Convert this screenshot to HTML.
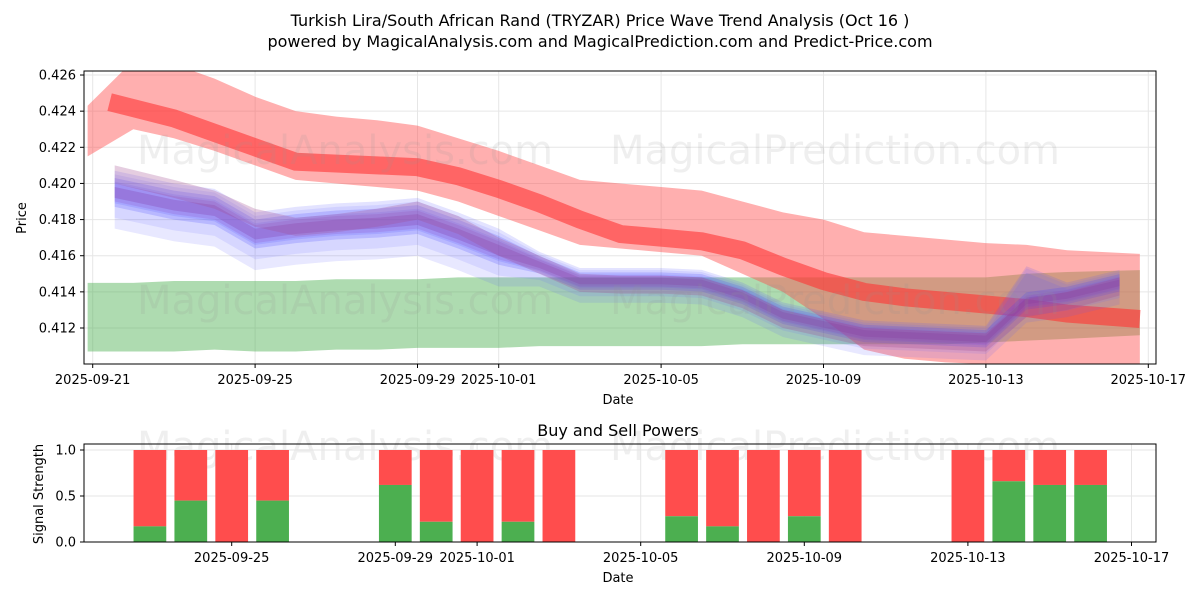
<!DOCTYPE html>
<html><head><meta charset="utf-8"><style>
body{margin:0;background:#fff;font-family:"Liberation Sans","DejaVu Sans",sans-serif}
svg text{font-family:"DejaVu Sans","Liberation Sans",sans-serif;fill:#000}
</style></head><body>
<svg id="c" width="1200" height="600" xmlns="http://www.w3.org/2000/svg">
<rect width="1200" height="600" fill="#fff"/>
<text x="600" y="26" font-size="16" text-anchor="middle">Turkish Lira/South African Rand (TRYZAR) Price Wave Trend Analysis (Oct 16 )</text>
<text x="600" y="47" font-size="16" text-anchor="middle">powered by MagicalAnalysis.com and MagicalPrediction.com and Predict-Price.com</text>
<g id="topg"></g><g id="botg"></g>
</svg>
<script>
const priceDates=['2025-09-20T21:00','2025-09-22','2025-09-23','2025-09-24','2025-09-25','2025-09-26','2025-09-27','2025-09-28','2025-09-29','2025-09-30','2025-10-01','2025-10-02','2025-10-03','2025-10-04','2025-10-05','2025-10-06','2025-10-07','2025-10-08','2025-10-09','2025-10-10','2025-10-11','2025-10-12','2025-10-13','2025-10-14','2025-10-15','2025-10-16T19:00'];
const redTop=[0.4243,0.4268,0.4266,0.4258,0.4248,0.4240,0.4237,0.4235,0.4232,0.4225,0.4218,0.4210,0.4202,0.4200,0.4198,0.4196,0.4190,0.4184,0.4180,0.4173,0.4171,0.4169,0.4167,0.4166,0.4163,0.4161];
const redBottom=[0.4215,0.4230,0.4225,0.4218,0.4210,0.4202,0.4200,0.4198,0.4196,0.4190,0.4182,0.4174,0.4166,0.4164,0.4162,0.4160,0.4150,0.4140,0.4125,0.4108,0.4103,0.4101,0.4100,0.4100,0.4100,0.4098];
const trendDates=['2025-09-21T10:00','2025-09-23','2025-09-24','2025-09-25','2025-09-26','2025-09-27','2025-09-28','2025-09-29','2025-09-30','2025-10-01','2025-10-02','2025-10-03','2025-10-04','2025-10-05','2025-10-06','2025-10-07','2025-10-08','2025-10-09','2025-10-10','2025-10-11','2025-10-12','2025-10-13','2025-10-14','2025-10-15','2025-10-16T19:00'];
const redTrend=[0.4245,0.4236,0.4228,0.4220,0.4212,0.4211,0.4210,0.4209,0.4204,0.4197,0.4189,0.4180,0.4172,0.4170,0.4168,0.4163,0.4154,0.4146,0.4140,0.4137,0.4135,0.4133,0.4131,0.4128,0.4125];
const greenTop=[0.4145,0.4145,0.4146,0.4146,0.4146,0.4146,0.4147,0.4147,0.4147,0.4148,0.4148,0.4148,0.4148,0.4148,0.4148,0.4148,0.4148,0.4148,0.4148,0.4148,0.4148,0.4148,0.4148,0.4150,0.4151,0.4152];
const greenBottom=[0.4107,0.4107,0.4107,0.4108,0.4107,0.4107,0.4108,0.4108,0.4109,0.4109,0.4109,0.4110,0.4110,0.4110,0.4110,0.4110,0.4111,0.4111,0.4111,0.4111,0.4111,0.4111,0.4112,0.4113,0.4114,0.4116];
const waveDates=['2025-09-21T13:00','2025-09-23','2025-09-24','2025-09-25','2025-09-26','2025-09-27','2025-09-28','2025-09-29','2025-09-30','2025-10-01','2025-10-02','2025-10-03','2025-10-04','2025-10-05','2025-10-06','2025-10-07','2025-10-08','2025-10-09','2025-10-10','2025-10-11','2025-10-12','2025-10-13','2025-10-14','2025-10-15','2025-10-16T07:00'];
const wave=[0.4195,0.4188,0.4185,0.4172,0.4175,0.4177,0.4178,0.4180,0.4172,0.4163,0.4155,0.4146,0.4146,0.4146,0.4145,0.4138,0.4127,0.4122,0.4117,0.4116,0.4115,0.4114,0.4135,0.4138,0.4145];
const upperWave=[0.4210,0.4202,0.4196,0.4186,0.4181,0.4183,0.4186,0.4190,0.4182,0.4170,0.4160,0.4150,0.4149,0.4149,0.4148,0.4141,0.4130,0.4125,0.4120,0.4119,0.4118,0.4117,0.4136,0.4140,0.4148];
const yTicks=[0.412,0.414,0.416,0.418,0.420,0.422,0.424,0.426];
const xTicks=['2025-09-21','2025-09-25','2025-09-29','2025-10-01','2025-10-05','2025-10-09','2025-10-13','2025-10-17'];
const xTicksB=['2025-09-25','2025-09-29','2025-10-01','2025-10-05','2025-10-09','2025-10-13','2025-10-17'];
const barDates=['2025-09-23','2025-09-24','2025-09-25','2025-09-26','2025-09-29','2025-09-30','2025-10-01','2025-10-02','2025-10-03','2025-10-06','2025-10-07','2025-10-08','2025-10-09','2025-10-10','2025-10-13','2025-10-14','2025-10-15','2025-10-16'];
const buyPower=[0.17,0.45,0,0.45,0.62,0.22,0,0.22,0,0.28,0.17,0,0.28,0,0,0.66,0.62,0.62];
const NS='http://www.w3.org/2000/svg';
const d0=Date.parse('2025-09-21T00:00');
function day(s){return (Date.parse(s.length===10?s+'T00:00':s)-d0)/86400000;}
const PX=40.6,PXB=40.9;
const X=s=>92.7+day(s)*PX;
const XB=s=>231.7+(day(s)-4)*PXB;
const Y=v=>328-(v-0.412)/0.002*36.14;
const YB=v=>542-v*92;
const L=84,R=1156;
function el(tg,a,p){const e=document.createElementNS(NS,tg);for(const k in a)e.setAttribute(k,a[k]);p.appendChild(e);return e;}
const topG=document.getElementById('topg'),botG=document.getElementById('botg');
const cp=el('clipPath',{id:'cp'},topG);el('rect',{x:L,y:71,width:R-L,height:293},cp);
const plot=el('g',{'clip-path':'url(#cp)'},topG);
yTicks.forEach(v=>el('line',{x1:L,x2:R,y1:Y(v),y2:Y(v),stroke:'#e6e6e6'},plot));
xTicks.forEach(s=>el('line',{x1:X(s),x2:X(s),y1:71,y2:364,stroke:'#e6e6e6'},plot));
function band(dates,up,lo,fill,op,name){
 let d='M'+dates.map((s,i)=>X(s)+','+Y(up[i])).join('L')+'L'+dates.map((s,i)=>X(s)+','+Y(lo[i])).reverse().join('L')+'Z';
 const p=el('path',{d:d,fill:fill,'fill-opacity':op},plot);
 
 
}
band(priceDates,greenTop,greenBottom,'#4caf50',0.45,'support-band');
band(priceDates,redTop,redBottom,'#ff4d4d',0.45,'resistance-band');
const rt=el('path',{d:'M'+trendDates.map((s,i)=>X(s)+','+Y(redTrend[i])).join('L'),fill:'none',stroke:'#ff3333','stroke-opacity':0.6,'stroke-width':18},plot);


const offs=[[0.0010,-0.0014,'#6a6aff',0.14],[0.0006,-0.0020,'#5a5aff',0.14],[0.0012,-0.0006,'#5050ff',0.16],[0.0008,-0.0008,'#4040ff',0.2],[0.0005,-0.0005,'#8a3fc0',0.2],[0.0003,-0.0003,'#7a2f9f',0.25]];
offs.forEach((o,k)=>{
 const f=i=>i>9?0.6:1;
 const up=wave.map((v,i)=>v+o[0]*f(i)+(k<3&&i===22?0.0012:0)),lo=wave.map((v,i)=>v+o[1]*f(i));
 band(waveDates,up,lo,o[2],o[3],'price-wave-'+k);
});
band(waveDates,upperWave,upperWave.map(v=>v-0.0010),'#a04a90',0.28,'upper-wave');
el('rect',{x:L,y:71,width:R-L,height:293,fill:'none',stroke:'#000','stroke-width':1},topG);
yTicks.forEach(v=>{el('line',{x1:L-4,x2:L,y1:Y(v),y2:Y(v),stroke:'#000'},topG);const t=el('text',{x:L-8,y:Y(v)+4.5,'font-size':13,'text-anchor':'end'},topG);t.textContent=v.toFixed(3);});
xTicks.forEach(s=>{el('line',{x1:X(s),x2:X(s),y1:364,y2:368,stroke:'#000'},topG);const t=el('text',{x:X(s),y:384,'font-size':13,'text-anchor':'middle'},topG);t.textContent=s;});
let tx=el('text',{x:618,y:404,'font-size':13,'text-anchor':'middle'},topG);tx.textContent='Date';
tx=el('text',{x:26,y:218,'font-size':13,'text-anchor':'middle',transform:'rotate(-90 26 218)'},topG);tx.textContent='Price';
[[345,150],[835,150],[345,300],[835,300],[345,446],[835,446]].forEach((p,i)=>{const w=el('text',{x:p[0],y:p[1]+14,'font-size':40,'text-anchor':'middle',style:'fill:rgba(150,150,150,0.15)'},i<4?plot:botG);w.textContent=(i%2?'MagicalPrediction.com':'MagicalAnalysis.com');});
[0,0.5,1].forEach(v=>el('line',{x1:L,x2:R,y1:YB(v),y2:YB(v),stroke:'#e6e6e6'},botG));
xTicksB.forEach(s=>el('line',{x1:XB(s),x2:XB(s),y1:444,y2:542,stroke:'#e6e6e6'},botG));
barDates.forEach((s,i)=>{
 const w=0.8*PXB,x=XB(s)-w/2;
 const r=el('rect',{x:x,y:YB(1),width:w,height:YB(buyPower[i])-YB(1),fill:'#ff4d4d'},botG);
 
 
 const g=el('rect',{x:x,y:YB(buyPower[i]),width:w,height:YB(0)-YB(buyPower[i]),fill:'#4caf50'},botG);
 
 
});
el('rect',{x:L,y:444,width:R-L,height:98,fill:'none',stroke:'#000'},botG);
[0,0.5,1].forEach(v=>{el('line',{x1:L-4,x2:L,y1:YB(v),y2:YB(v),stroke:'#000'},botG);const t=el('text',{x:L-8,y:YB(v)+4.5,'font-size':13,'text-anchor':'end'},botG);t.textContent=v.toFixed(1);});
xTicksB.forEach(s=>{el('line',{x1:XB(s),x2:XB(s),y1:542,y2:546,stroke:'#000'},botG);const t=el('text',{x:XB(s),y:562,'font-size':13,'text-anchor':'middle'},botG);t.textContent=s;});
tx=el('text',{x:618,y:582,'font-size':13,'text-anchor':'middle'},botG);tx.textContent='Date';
tx=el('text',{x:618,y:436,'font-size':16,'text-anchor':'middle'},botG);tx.textContent='Buy and Sell Powers';
tx=el('text',{x:43,y:494,'font-size':13,'text-anchor':'middle',transform:'rotate(-90 43 494)'},botG);tx.textContent='Signal Strength';
</script>
</body></html>
